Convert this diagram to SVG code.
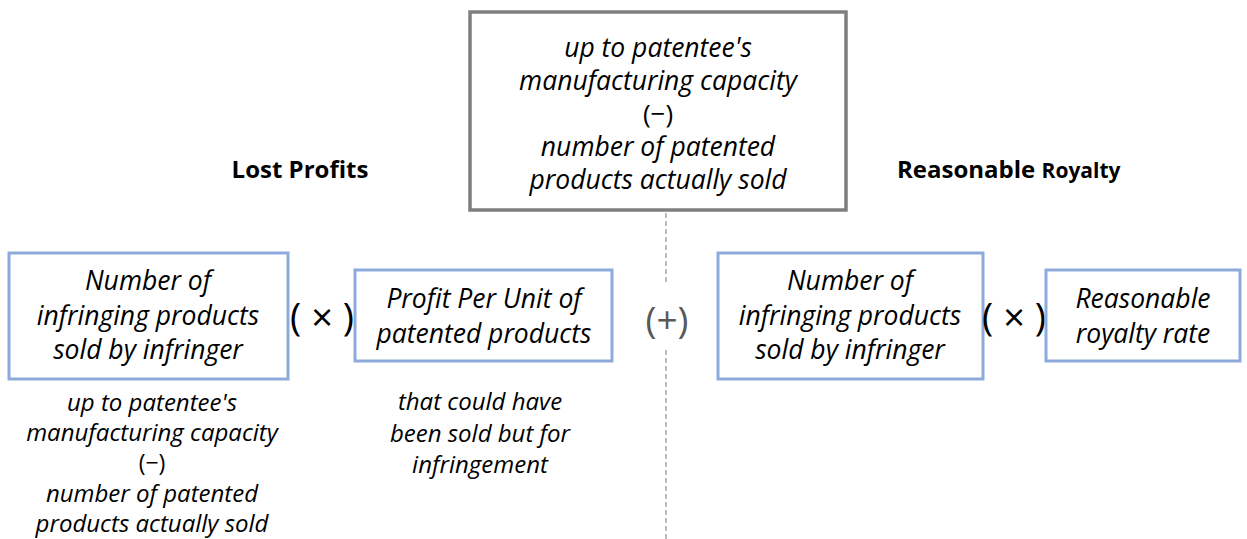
<svg xmlns="http://www.w3.org/2000/svg" width="1247" height="539" viewBox="0 0 1247 539">
<style>
.box{fill:#fff;stroke:#8eaadb;stroke-width:3}
.gbox{fill:#fff;stroke:#7f7f7f;stroke-width:3.5}
.t{font-family:"Open Sans","Liberation Sans",sans-serif;font-style:italic;font-size:26.5px;fill:#000;text-anchor:middle}
.s{font-family:"Open Sans","Liberation Sans",sans-serif;font-style:italic;font-size:24px;fill:#000;text-anchor:middle}
.h{font-family:"Open Sans","Liberation Sans",sans-serif;font-weight:bold;font-size:24px;fill:#000}
.op{font-family:"Open Sans","Liberation Sans",sans-serif;font-size:38px;fill:#000;text-anchor:middle}
.plus{font-family:"Open Sans","Liberation Sans",sans-serif;font-size:37px;fill:#595959;text-anchor:middle}
</style>
<rect width="1247" height="539" fill="#fff"/>
<g id="connectors">
<line x1="666" y1="213" x2="666" y2="282" stroke="#a6a6a6" stroke-width="1.5" stroke-dasharray="5,3"/>
<line x1="666" y1="350" x2="666" y2="539" stroke="#a6a6a6" stroke-width="1.5" stroke-dasharray="5,3"/>
</g>
<g id="top-box">
<rect class="gbox" x="470" y="12" width="376" height="198"/>
<text class="t" x="658" y="57">up to patentee's</text>
<text class="t" x="658" y="90">manufacturing capacity</text>
<text class="t" x="658" y="123" style="font-style:normal;font-size:26px">(−)</text>
<text class="t" x="658" y="156">number of patented</text>
<text class="t" x="658" y="189">products actually sold</text>
</g>
<g id="lost-profits-title"><text class="h" x="300" y="178" text-anchor="middle">Lost Profits</text></g>
<g id="reasonable-royalty-title"><text class="h" x="897" y="178">Reasonable <tspan style="font-size:21px">Royalty</tspan></text></g>
<g id="lp-number">
<rect class="box" x="9" y="253" width="279" height="126"/>
<text class="t" x="148" y="290">Number of</text>
<text class="t" x="148" y="325">infringing products</text>
<text class="t" x="148" y="359">sold by infringer</text>
</g>
<g id="op-times-1"><text class="op" x="322" y="331">( × )</text></g>
<g id="lp-profit">
<rect class="box" x="355" y="270" width="257" height="91"/>
<text class="t" x="484" y="308">Profit Per Unit of</text>
<text class="t" x="484" y="343">patented products</text>
</g>
<g id="op-plus"><text class="plus" x="667" y="333">(+)</text></g>
<g id="rr-number">
<rect class="box" x="718" y="253" width="265" height="126"/>
<text class="t" x="850" y="290">Number of</text>
<text class="t" x="850" y="325">infringing products</text>
<text class="t" x="850" y="359">sold by infringer</text>
</g>
<g id="op-times-2"><text class="op" x="1014" y="331">( × )</text></g>
<g id="rr-rate">
<rect class="box" x="1046" y="270" width="194" height="91"/>
<text class="t" x="1143" y="308">Reasonable</text>
<text class="t" x="1143" y="343">royalty rate</text>
</g>
<g id="lp-note-1">
<text class="s" x="152" y="411">up to patentee's</text>
<text class="s" x="152" y="441">manufacturing capacity</text>
<text class="s" x="152" y="471" style="font-style:normal;font-size:23px">(−)</text>
<text class="s" x="152" y="502">number of patented</text>
<text class="s" x="152" y="532">products actually sold</text>
</g>
<g id="lp-note-2">
<text class="s" x="480" y="410">that could have</text>
<text class="s" x="480" y="442">been sold but for</text>
<text class="s" x="480" y="473">infringement</text>
</g>
</svg>
